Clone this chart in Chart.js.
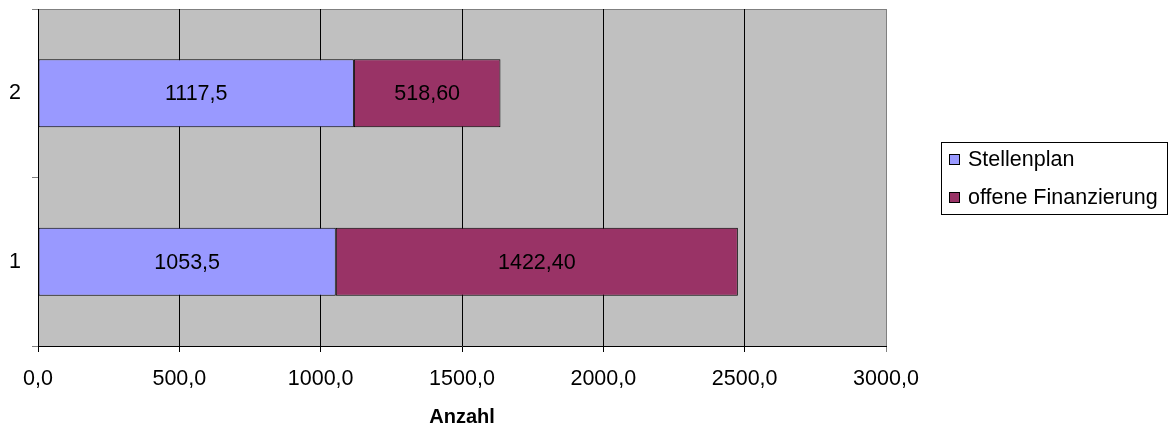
<!DOCTYPE html>
<html>
<head>
<meta charset="utf-8">
<title>Anzahl</title>
<script src="https://cdn.jsdelivr.net/npm/chart.js@4"></script>
<style>
  html, body { margin: 0; padding: 0; background: #ffffff; }
  #wrap { width: 1173px; height: 430px; }
</style>
</head>
<body>
<div id="wrap"><canvas id="c" width="1173" height="430"></canvas></div>
<script>
// Categories (bottom to top) and the two stacked series
const categories = ['1', '2'];
const stellenplan = [1053.5, 1117.5];
const offeneFinanzierung = [1422.4, 518.6];
const seriesNames = ['Stellenplan', 'offene Finanzierung'];
const labelDecimals = [1, 2];
const xTicks = [0, 500, 1000, 1500, 2000, 2500, 3000];

const FONT = '"Liberation Sans", Arial, Helvetica, sans-serif';
const TEXT_SIZE = 21.5;
const fmt = (v, d) => Number(v).toFixed(d).replace('.', ',');

// Grey plot background with a grey frame on top and right
const plotFrame = {
  id: 'plotFrame',
  beforeDraw(chart) {
    const { ctx, chartArea: a } = chart;
    ctx.save();
    ctx.fillStyle = '#C0C0C0';
    ctx.fillRect(a.left, a.top, a.right - a.left, a.bottom - a.top);
    ctx.strokeStyle = '#808080';
    ctx.lineWidth = 1;
    ctx.beginPath();
    ctx.moveTo(a.left, Math.round(a.top) + 0.5);
    ctx.lineTo(Math.round(a.right) + 0.5, Math.round(a.top) + 0.5);
    ctx.lineTo(Math.round(a.right) + 0.5, a.bottom);
    ctx.stroke();
    ctx.restore();
  }
};

// Value written in the middle of each bar segment
const valueLabels = {
  id: 'valueLabels',
  afterDatasetsDraw(chart) {
    const ctx = chart.ctx;
    ctx.save();
    ctx.font = TEXT_SIZE + 'px ' + FONT;
    ctx.fillStyle = '#000000';
    ctx.textAlign = 'center';
    ctx.textBaseline = 'middle';
    chart.data.datasets.forEach((ds, i) => {
      chart.getDatasetMeta(i).data.forEach((bar, j) => {
        const p = bar.getProps(['x', 'y', 'base'], true);
        ctx.fillText(fmt(ds.data[j], labelDecimals[i]), (p.x + p.base) / 2, p.y + 1);
      });
    });
    ctx.restore();
  }
};

// Framed legend to the right of the plot
const boxLegend = {
  id: 'boxLegend',
  afterDraw(chart) {
    const { ctx, chartArea: a } = chart;
    const width = 226, height = 72, rowGap = 38;
    const left = Math.round(a.right) + 55;
    const top = Math.round((a.top + a.bottom) / 2 - height / 2);
    ctx.save();
    ctx.fillStyle = '#ffffff';
    ctx.fillRect(left, top, width, height);
    ctx.strokeStyle = '#000000';
    ctx.lineWidth = 1;
    ctx.strokeRect(left + 0.5, top + 0.5, width, height);
    ctx.font = TEXT_SIZE + 'px ' + FONT;
    ctx.textAlign = 'left';
    ctx.textBaseline = 'middle';
    chart.data.datasets.forEach((ds, i) => {
      const cy = top + 17 + i * rowGap;
      ctx.fillStyle = ds.backgroundColor;
      ctx.fillRect(left + 8, cy - 5, 11, 11);
      ctx.strokeRect(left + 8.5, cy - 4.5, 10, 10);
      ctx.fillStyle = '#000000';
      ctx.fillText(ds.label, left + 27, cy + 1);
    });
    ctx.restore();
  }
};

new Chart(document.getElementById('c'), {
  type: 'bar',
  data: {
    labels: categories,
    datasets: [
      {
        label: seriesNames[0],
        data: stellenplan,
        backgroundColor: '#9999FF',
        borderColor: '#000000',
        borderWidth: 1,
        borderSkipped: false,
        barPercentage: 0.405,
        categoryPercentage: 1
      },
      {
        label: seriesNames[1],
        data: offeneFinanzierung,
        backgroundColor: '#993366',
        borderColor: '#000000',
        borderWidth: 1,
        borderSkipped: false,
        barPercentage: 0.405,
        categoryPercentage: 1
      }
    ]
  },
  options: {
    indexAxis: 'y',
    responsive: false,
    animation: false,
    layout: { padding: { top: 9, right: 287, bottom: 0, left: 0 } },
    plugins: {
      legend: { display: false },
      tooltip: { enabled: false }
    },
    scales: {
      x: {
        type: 'linear',
        stacked: true,
        min: 0,
        max: 3000,
        afterBuildTicks: s => { s.ticks = xTicks.map(v => ({ value: v })); },
        ticks: {
          font: { family: FONT, size: TEXT_SIZE },
          color: '#000000',
          padding: 14,
          maxRotation: 0,
          autoSkip: false,
          callback: v => fmt(v, 1)
        },
        grid: {
          color: c => (c.tick && c.tick.value === 3000) ? '#808080' : '#000000',
          lineWidth: 1,
          tickLength: 6
        },
        border: { color: '#000000', width: 1 },
        title: {
          display: true,
          text: 'Anzahl',
          color: '#000000',
          font: { family: FONT, size: 20, weight: 'bold' },
          padding: { top: 0, bottom: 1 }
        },
        afterFit: s => { s.height = 84; s.paddingLeft = 0; s.paddingRight = 0; }
      },
      y: {
        type: 'category',
        stacked: true,
        reverse: true,
        offset: true,
        ticks: {
          font: { family: FONT, size: TEXT_SIZE },
          color: '#000000',
          padding: 11
        },
        grid: {
          offset: true,
          drawOnChartArea: false,
          tickLength: 6,
          color: '#808080'
        },
        border: { color: '#000000', width: 1 },
        afterFit: s => { s.width = 38; s.paddingTop = 0; s.paddingBottom = 0; }
      }
    }
  },
  plugins: [plotFrame, valueLabels, boxLegend]
});
</script>
</body>
</html>
